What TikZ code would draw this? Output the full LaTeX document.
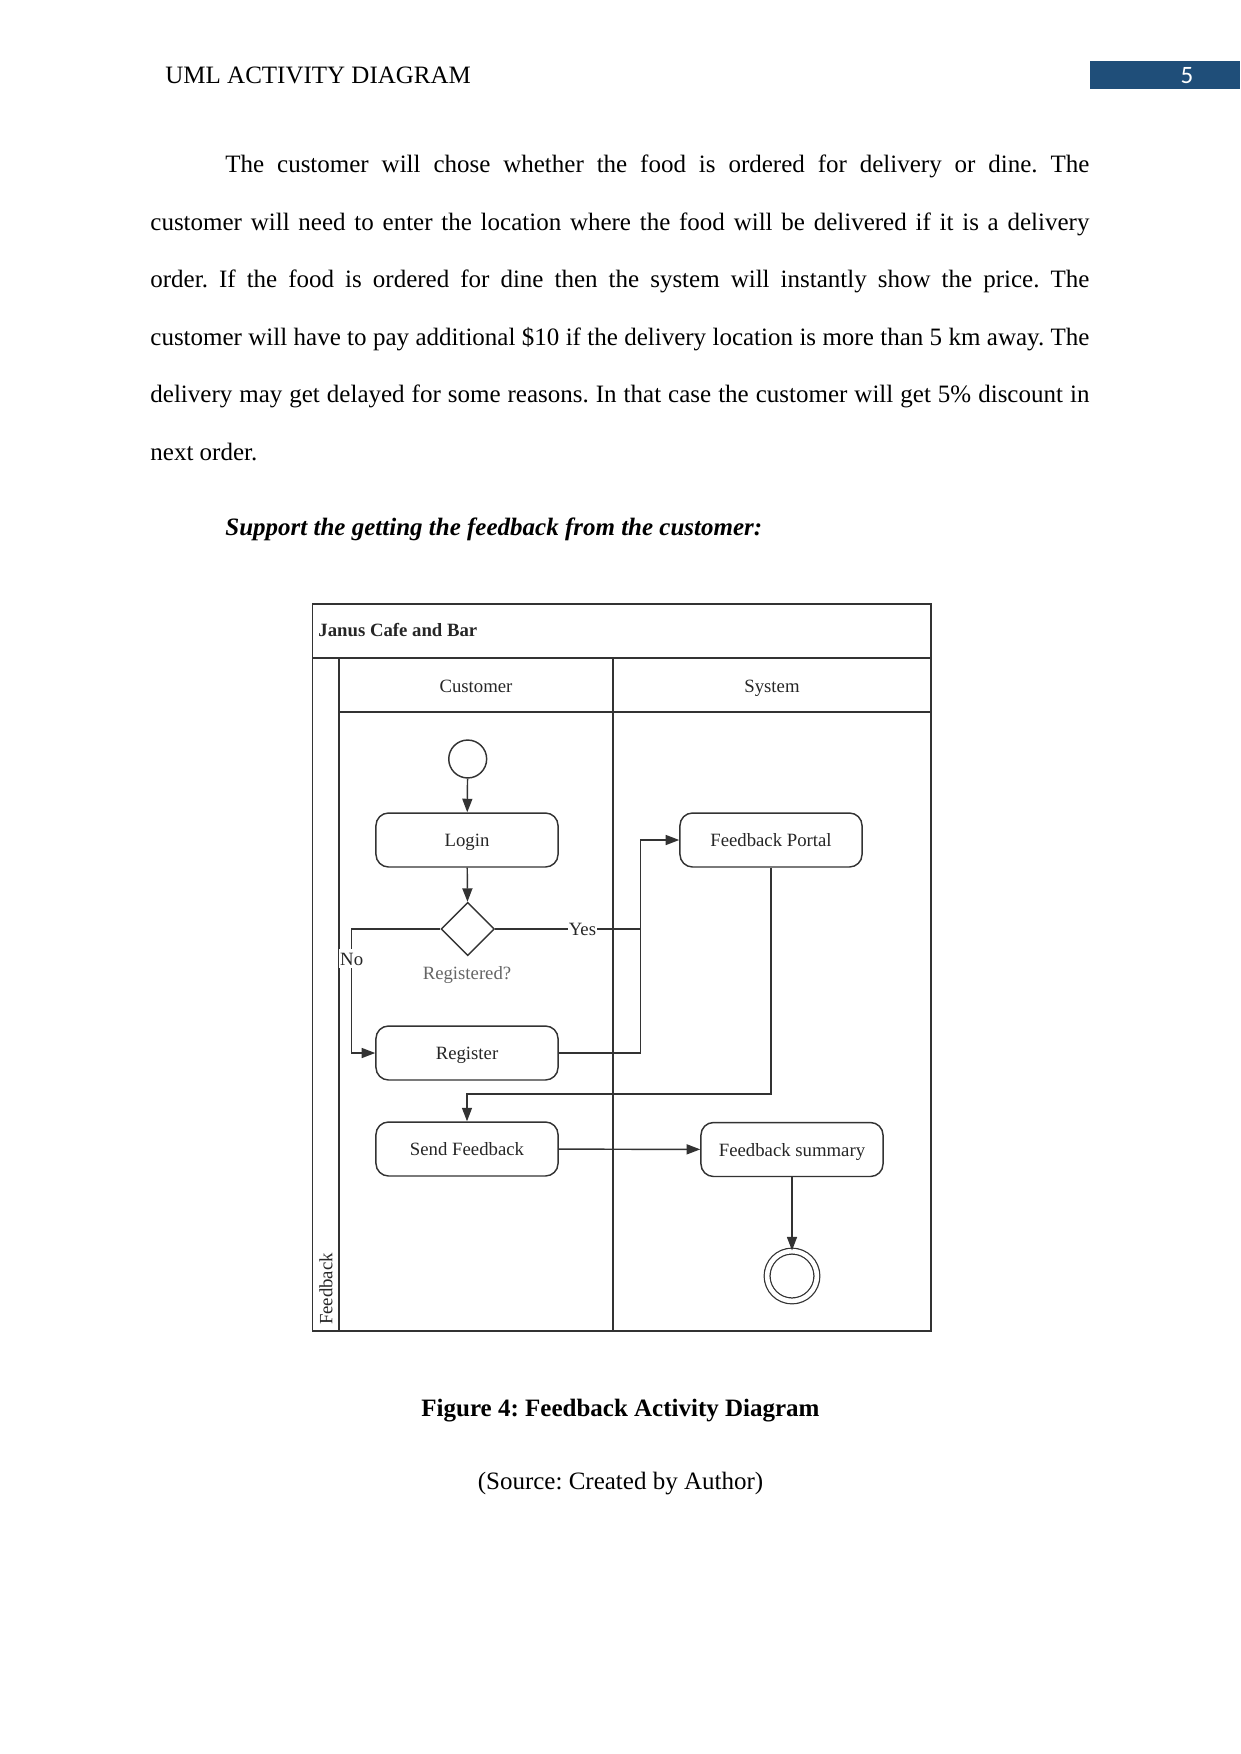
\documentclass[tikz,border=0pt]{standalone}
\usepackage{fontspec}
\setmainfont{Liberation Serif}
\newfontfamily\numfont{Carlito}
\usetikzlibrary{shapes.geometric,arrows.meta}
\definecolor{pagenum}{HTML}{1F4E79}
\definecolor{framegray}{gray}{0.2}
\frenchspacing
\begin{document}
\begin{tikzpicture}[x=0.48pt,y=-0.48pt,
  every node/.style={inner sep=0pt},
  bodytext/.style={font=\fontsize{12}{27.6}\selectfont},
  small/.style={font=\fontsize{9}{11}\selectfont,text=black!85},
  lane/.style={draw=framegray,line width=0.7pt},
  action/.style={draw=framegray,line width=0.7pt,rounded corners=6pt,
    minimum width=87.4pt,minimum height=25.9pt,text height=8pt,text depth=1.6pt,small},
  decision/.style={diamond,draw=framegray,line width=0.7pt,minimum width=25.6pt,minimum height=25.6pt},
  initial/.style={circle,draw=framegray,line width=0.7pt,minimum size=18.2pt},
  final/.style={circle,draw=framegray,line width=0.6pt,double,double distance=2.2pt,minimum size=23.9pt},
  flow/.style={draw=framegray,line width=0.7pt,-{Triangle[length=6.5pt,width=4.8pt]}},
  line/.style={draw=framegray,line width=0.7pt},
  guard/.style={small,fill=white,inner xsep=0.5pt,inner ysep=1.5pt,text height=6pt,text depth=0pt}]
\useasboundingbox (0,0) rectangle (1241,1754);
% page head
\node[bodytext,anchor=base west] (head) at (165,83) {UML ACTIVITY DIAGRAM};
\fill[pagenum] (1090,61) rectangle (1240,89);
\node[anchor=base,text=white,font=\numfont\fontsize{12}{14}\selectfont] (pagenr) at (1187,83) {5};
% body
\node[bodytext,anchor=base west,text width=450.7pt,align=justify] (para) at (150,172.5)
  {\hspace*{36pt}The customer will chose whether the food is ordered for delivery or dine. The\linebreak
   customer will need to enter the location where the food will be delivered if it is a delivery\linebreak
   order. If the food is ordered for dine then the system will instantly show the price. The\linebreak
   customer will have to pay additional \$10 if the delivery location is more than 5 km away. The\linebreak
   delivery may get delayed for some reasons. In that case the customer will get 5\% discount in\linebreak
   next order.};
\node[bodytext,anchor=base west,font=\fontsize{12}{14}\selectfont\bfseries\itshape] (subhead) at (225,535)
  {Support the getting the feedback from the customer:};
% swimlanes
\draw[lane] (312.7,604) rectangle (931,1331);
\draw[lane] (312.7,658) -- (931,658);
\draw[lane] (339,658) -- (339,1331);
\draw[lane] (339,712) -- (931,712);
\draw[lane] (613,658) -- (613,1331);
\node[anchor=base west,font=\fontsize{9}{11}\selectfont\bfseries,text=black!85] (pool) at (318,636) {Janus Cafe and Bar};
\node[small,anchor=base] (custlane) at (476,692) {Customer};
\node[small,anchor=base] (syslane) at (772,692) {System};
\node[small,rotate=90] (fblane) at (326,1289) {Feedback};
% activities
\node[initial] (start) at (467.7,759) {};
\node[action] (login) at (467,840) {Login};
\node[decision] (reg) at (467.7,929) {};
\node[small,anchor=base,text=black!60] (regq) at (467,979) {Registered?};
\node[action] (register) at (467,1053) {Register};
\node[action] (portal) at (771,840) {Feedback Portal};
\node[action] (send) at (467,1149) {Send Feedback};
\node[action] (summary) at (792,1149.5) {Feedback summary};
\node[final] (stop) at (792,1276) {};
\coordinate (nobend) at (351.7,929);
\coordinate (join) at (640.7,929);
\coordinate (drop) at (467,1094);
% flows
\draw[flow] (start) -- (login);
\draw[flow] (login) -- (reg);
\draw[flow] (reg.west) -- (nobend) |- node[guard,pos=0.12] {No} (register.west);
\draw[flow] (reg.east) -- node[guard,pos=0.6] {Yes} (join) |- (portal.west);
\draw[line] (register.east) -| (join);
\draw[flow] (portal.south) |- (drop) -- (send.north);
\draw[flow] (send) -- (summary);
\draw[flow] (summary) -- (stop);
% caption
\node[anchor=base,font=\fontsize{12}{14}\selectfont\bfseries] (caption) at (620.5,1416) {Figure 4: Feedback Activity Diagram};
\node[bodytext,anchor=base] (source) at (620.5,1489) {(Source: Created by Author)};
\end{tikzpicture}
\end{document}
